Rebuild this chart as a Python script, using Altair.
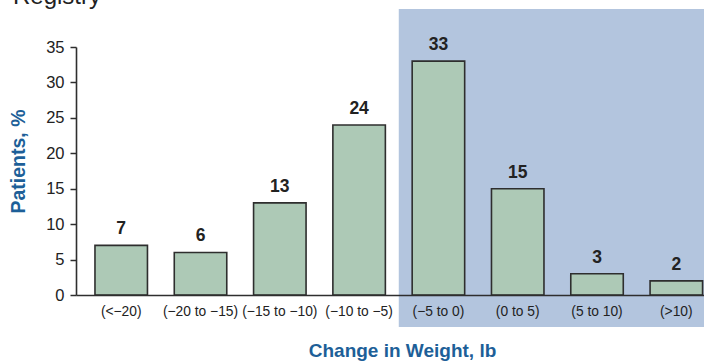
import altair as alt
import pandas as pd

# Weight-change categories and share of patients (%)
categories = ["(<\u221220)", "(\u221220 to \u221215)", "(\u221215 to \u221210)", "(\u221210 to \u22125)",
              "(\u22125 to 0)", "(0 to 5)", "(5 to 10)", "(>10)"]
patients = [7, 6, 13, 24, 33, 15, 3, 2]
highlight_start = ["(\u22125 to 0)"]
heading = ["Registry"]

df = pd.DataFrame({"change": categories, "pct": patients})
shade = pd.DataFrame({"change": highlight_start, "pct": [0]})
head = pd.DataFrame({"text": heading})

FONT = "Liberation Sans"
BLUE = "#1d5f98"
W, H = 628, 248

x_scale = alt.Scale(domain=categories, paddingInner=0.338, paddingOuter=0.1286, align=0.93)
y_scale = alt.Scale(domain=[0, 35], nice=False)

x_axis = alt.Axis(title="Change in Weight, lb", labelAngle=0, ticks=False,
                  labelFontSize=13.8, labelFont=FONT, labelColor="#222",
                  labelPadding=9, domainColor="#2e2e2e", domainWidth=1.6,
                  titleFont=FONT, titleFontSize=19, titleFontWeight="bold",
                  titleColor=BLUE, titleX=326, titleY=55,
                  titleBaseline="middle", titleAlign="center", zindex=1)
y_axis = alt.Axis(title="Patients, %", values=[0, 5, 10, 15, 20, 25, 30, 35],
                  grid=False, tickSize=6, tickColor="#2e2e2e", tickWidth=1.5,
                  labelFontSize=16.5, labelFont=FONT, labelColor="#222",
                  labelPadding=6, domainColor="#2e2e2e", domainWidth=1.6,
                  titleFont=FONT, titleFontSize=19.5, titleFontWeight="bold",
                  titleColor=BLUE, titleX=-58, titleY=114, titleAngle=270,
                  titleBaseline="middle", titleAlign="center", zindex=1)

X = alt.X("change:N", scale=x_scale, sort=categories, axis=x_axis)
Y = alt.Y("pct:Q", scale=y_scale, axis=y_axis)

# shaded panel from the (−5 to 0) band boundary to the right edge
band = alt.Chart(shade).mark_rect(color="#b3c5de", xOffset=-13.4).encode(
    x=alt.X("change:N", scale=x_scale, sort=categories, axis=x_axis, bandPosition=0),
    x2=alt.value(W + 20),
    y=alt.value(-38),
    y2=alt.value(H + 32),
)

bars = alt.Chart(df).mark_bar(color="#adc9b6", stroke="#2e2e2e", strokeWidth=1.6).encode(
    x=X, y=Y,
)

labels = alt.Chart(df).mark_text(baseline="bottom", dy=-7, fontSize=17.5,
                                 fontWeight="bold", font=FONT, color="#222").encode(
    x=X, y=Y, text="pct:Q",
)

# heading line, mostly above the top edge of the figure
title_text = alt.Chart(head).mark_text(align="left", baseline="alphabetic", fontSize=24,
                                       font=FONT, color="#222").encode(
    x=alt.value(-63), y=alt.value(-43), text="text:N",
)

chart = alt.layer(band, bars, labels, title_text).properties(
    width=W, height=H,
    padding={"left": 76, "top": 47, "right": 0, "bottom": 68},
    autosize=alt.AutoSizeParams(type="none"),
).configure_view(stroke=None)

chart.save("out.html", embed_options={"renderer": "svg", "actions": False})
